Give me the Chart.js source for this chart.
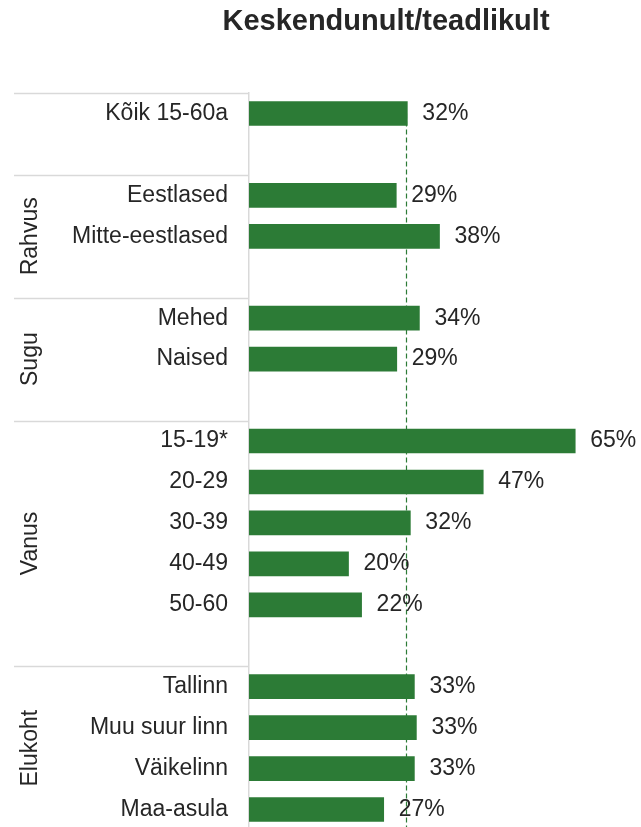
<!DOCTYPE html>
<html>
<head>
<meta charset="utf-8">
<script src="https://cdn.jsdelivr.net/npm/chart.js@4"></script>
<style>
  html, body { margin: 0; padding: 0; background: #fff; overflow: hidden; }
  #wrap { width: 641px; height: 830px; }
</style>
</head>
<body>
<div id="wrap"><canvas id="chart"></canvas></div>
<script>
// Chart data ('' rows are the gaps between groups)
const chartTitle = "Keskendunult/teadlikult";
const categories = ["Kõik 15-60a", "", "Eestlased", "Mitte-eestlased", "", "Mehed", "Naised", "",
  "15-19*", "20-29", "30-39", "40-49", "50-60", "", "Tallinn", "Muu suur linn", "Väikelinn", "Maa-asula"];
const shares = [31.5, null, 29.3, 37.9, null, 33.9, 29.4, null,
  64.9, 46.6, 32.1, 19.8, 22.4, null, 32.9, 33.3, 32.9, 26.8];
const averageShare = 31.2;
const groupNames = ["", "Rahvus", "Sugu", "Vanus", "Elukoht"];
const groupStarts = [0, 2, 5, 8, 14];
const groupEnds = [1, 4, 7, 13, 17];

const FONT = "'Liberation Sans', Arial, sans-serif";
const GREEN = "#2c7b36";
const TEXT = "#262626";
const LINE = "#d9d9d9";

// title, group separators and rotated group names
const framePlugin = {
  id: "frame",
  afterDraw(chart) {
    const { ctx, chartArea } = chart;
    const slot = (chartArea.bottom - chartArea.top) / categories.length;
    ctx.save();
    ctx.fillStyle = TEXT;
    ctx.font = "bold 29px " + FONT;
    ctx.textAlign = "center";
    ctx.textBaseline = "alphabetic";
    ctx.fillText(chartTitle, 386, 30);

    ctx.strokeStyle = LINE;
    ctx.lineWidth = 1.5;
    groupStarts.forEach(k => {
      const y = Math.round(chartArea.top + k * slot) + 0.5;
      ctx.beginPath();
      ctx.moveTo(14, y);
      ctx.lineTo(chartArea.left, y);
      ctx.stroke();
    });

    ctx.font = "23px " + FONT;
    groupNames.forEach((name, i) => {
      if (!name) return;
      const yMid = chartArea.top + (groupStarts[i] + groupEnds[i] + 1) / 2 * slot;
      ctx.save();
      ctx.translate(37, yMid);
      ctx.rotate(-Math.PI / 2);
      ctx.fillText(name, 0, 0);
      ctx.restore();
    });
    ctx.restore();
  }
};

// dashed average line behind the bars
const averagePlugin = {
  id: "average",
  beforeDatasetsDraw(chart) {
    const { ctx, chartArea, scales } = chart;
    const x = Math.round(scales.x.getPixelForValue(averageShare)) + 0.5;
    ctx.save();
    ctx.strokeStyle = GREEN;
    ctx.lineWidth = 1.2;
    ctx.setLineDash([5, 3]);
    ctx.beginPath();
    ctx.moveTo(x, scales.y.getPixelForValue(0));
    ctx.lineTo(x, chartArea.bottom);
    ctx.stroke();
    ctx.restore();
  }
};

// percent labels to the right of the bars
const valueLabels = {
  id: "valueLabels",
  afterDatasetsDraw(chart) {
    const { ctx } = chart;
    const meta = chart.getDatasetMeta(0);
    ctx.save();
    ctx.fillStyle = TEXT;
    ctx.font = "23px " + FONT;
    ctx.textAlign = "left";
    ctx.textBaseline = "middle";
    meta.data.forEach((bar, i) => {
      if (shares[i] == null) return;
      ctx.fillText(Math.round(shares[i]) + "%", bar.x + 15, bar.y);
    });
    ctx.restore();
  }
};

new Chart(document.getElementById("chart"), {
  type: "bar",
  data: {
    labels: categories,
    datasets: [{
      data: shares,
      backgroundColor: GREEN,
      borderWidth: 0,
      barThickness: 24
    }]
  },
  options: {
    indexAxis: "y",
    responsive: true,
    maintainAspectRatio: false,
    animation: false,
    layout: { padding: { top: 93, right: 15, bottom: 0, left: 0 } },
    plugins: {
      legend: { display: false },
      tooltip: { enabled: false }
    },
    scales: {
      x: {
        display: false,
        min: 0,
        max: 75
      },
      y: {
        grid: { display: false, drawTicks: false },
        border: { display: true, color: LINE, width: 1.5 },
        ticks: {
          color: TEXT,
          font: { family: FONT, size: 23 },
          padding: 21,
          autoSkip: false
        },
        afterFit(scale) {
          scale.width = 249;
          scale.paddingTop = 0;
          scale.paddingBottom = 0;
        }
      }
    }
  },
  plugins: [averagePlugin, valueLabels, framePlugin]
});
</script>
</body>
</html>
